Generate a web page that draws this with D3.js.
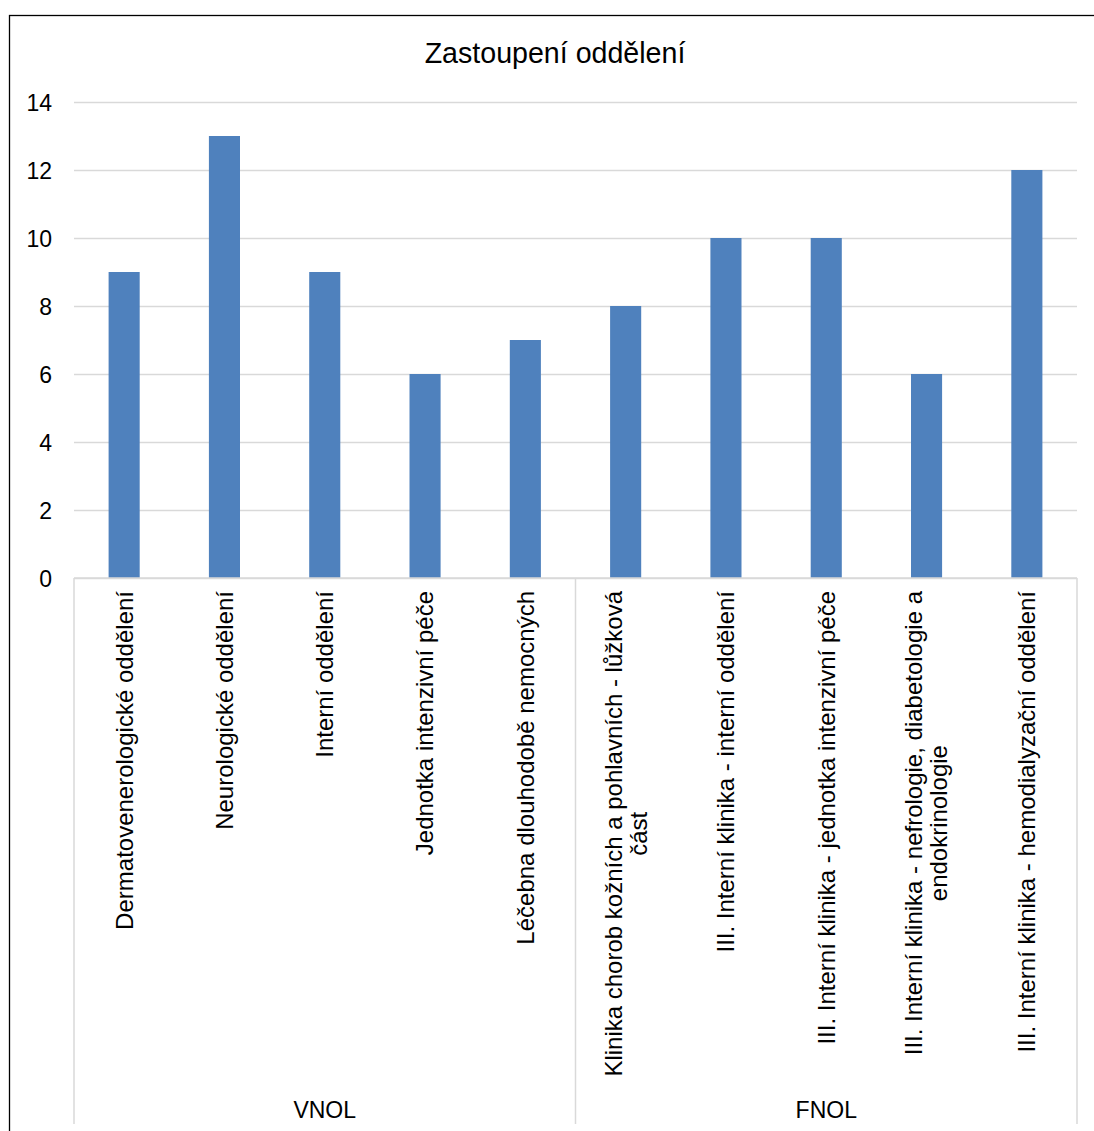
<!DOCTYPE html>
<html>
<head>
<meta charset="utf-8">
<script src="https://cdn.jsdelivr.net/npm/d3@7"></script>
<style>
  html, body { margin: 0; padding: 0; background: #fff; }
  text { font-family: "Liberation Sans", Arial, sans-serif; fill: #000; }
</style>
</head>
<body>
<div id="svg-container"></div>
<script>
// chart data
var departments = [
  "Dermatovenerologické oddělení",
  "Neurologické oddělení",
  "Interní oddělení",
  "Jednotka intenzivní péče",
  "Léčebna dlouhodobě nemocných",
  "Klinika chorob kožních a pohlavních - lůžková část",
  "III. Interní klinika - interní oddělení",
  "III. Interní klinika - jednotka intenzivní péče",
  "III. Interní klinika - nefrologie, diabetologie a endokrinologie",
  "III. Interní klinika - hemodialyzační oddělení"
];
var hospitals = ["VNOL", "VNOL", "VNOL", "VNOL", "VNOL", "FNOL", "FNOL", "FNOL", "FNOL", "FNOL"];
var counts = [9, 13, 9, 6, 7, 8, 10, 10, 6, 12];
var yTicks = [0, 2, 4, 6, 8, 10, 12, 14];
var chartTitle = "Zastoupení oddělení";

// layout
var width = 1094, height = 1131;
var plot = { left : 74, right : 1077, top : 102, bottom : 578 };
var tickFont = 23;
var labelFont = 24;
var maxLabelLength = 500;

var svg = d3.select("#svg-container").append("svg")
    .attr("width", width)
    .attr("height", height);

// chart border (runs off the right and bottom edge)
svg.append("rect")
  .attr("x", 9.5)
  .attr("y", 15.5)
  .attr("width", 1200)
  .attr("height", 1200)
  .attr("fill", "none")
  .attr("stroke", "#000")
  .attr("stroke-width", 1.3);

// title
svg.append("text")
  .attr("x", 555)
  .attr("y", 63)
  .attr("text-anchor", "middle")
  .style("font-size", "28.6px")
  .text(chartTitle);

// scales
var x = d3.scaleBand()
    .domain(d3.range(departments.length))
    .range([plot.left, plot.right])
    .paddingInner(0.69)
    .paddingOuter(0.345);

var xStep = (plot.right - plot.left) / departments.length;

var y = d3.scaleLinear()
    .domain([0, 14])
    .range([plot.bottom, plot.top]);

// y gridlines + tick labels
var yAxis = d3.axisLeft(y)
    .tickValues(yTicks)
    .tickSize(-(plot.right - plot.left))
    .tickPadding(22)
    .tickFormat(d3.format("d"));

var gy = svg.append("g")
  .attr("transform", "translate(" + plot.left + ",0)")
  .call(yAxis);

gy.select(".domain").remove();
gy.selectAll(".tick line")
  .attr("stroke", "#d9d9d9")
  .attr("stroke-width", 1.5);
gy.selectAll(".tick text")
  .attr("dy", "0.36em")
  .style("font-size", tickFont + "px")
  .style("font-family", "'Liberation Sans', Arial, sans-serif");

// bars
svg.append("g")
  .selectAll("rect")
  .data(counts)
  .enter()
    .append("rect")
      .attr("x", function(d, i) { return x(i); })
      .attr("y", function(d) { return y(d); })
      .attr("width", x.bandwidth())
      .attr("height", function(d) { return y(0) - y(d); })
      .attr("fill", "#4f81bd");

// category axis line
svg.append("line")
  .attr("x1", plot.left).attr("x2", plot.right)
  .attr("y1", plot.bottom).attr("y2", plot.bottom)
  .attr("stroke", "#d9d9d9")
  .attr("stroke-width", 1.5);

// build groups from hospital list
var groups = [];
hospitals.forEach(function(h, i) {
  var last = groups[groups.length - 1];
  if (last && last.name === h) last.end = i;
  else groups.push({ name : h, start : i, end : i });
});

// group separators
var separators = [0].concat(groups.map(function(g) { return g.end + 1; }));
svg.append("g")
  .selectAll("line")
  .data(separators)
  .enter()
    .append("line")
      .attr("x1", function(d) { return plot.left + d * xStep; })
      .attr("x2", function(d) { return plot.left + d * xStep; })
      .attr("y1", plot.bottom)
      .attr("y2", 1124)
      .attr("stroke", "#d9d9d9")
      .attr("stroke-width", 1.5);

// group labels
svg.append("g")
  .selectAll("text")
  .data(groups)
  .enter()
    .append("text")
      .attr("x", function(g) { return plot.left + (g.start + g.end + 1) / 2 * xStep; })
      .attr("y", 1118)
      .attr("text-anchor", "middle")
      .style("font-size", tickFont + "px")
      .text(function(g) { return g.name; });

// rotated category labels, wrapped like the spreadsheet does
var measure = svg.append("text").style("font-size", labelFont + "px");
function textLength(s) {
  measure.text(s);
  return measure.node().getComputedTextLength();
}

function wrap(label) {
  var words = label.split(" ");
  var lines = [];
  var line = words[0];
  for (var i = 1; i < words.length; i++) {
    var next = line + " " + words[i];
    if (textLength(next) > maxLabelLength) {
      lines.push(line);
      line = words[i];
    } else {
      line = next;
    }
  }
  lines.push(line);
  return lines;
}

var lineHeight = 25;
var labelTop = 591;

departments.forEach(function(label, i) {
  var lines = wrap(label);
  var blockLength = d3.max(lines, textLength);
  var cx = x(i) + x.bandwidth() / 2;
  var cy = labelTop + blockLength / 2;
  var g = svg.append("g")
    .attr("transform", "translate(" + cx + "," + cy + ") rotate(-90)");
  g.selectAll("text")
    .data(lines)
    .enter()
      .append("text")
        .attr("x", 0)
        .attr("y", function(d, k) { return (k - (lines.length - 1) / 2) * lineHeight; })
        .attr("dy", "0.35em")
        .attr("text-anchor", "middle")
        .style("font-size", labelFont + "px")
        .text(function(d) { return d; });
});

measure.remove();
</script>
</body>
</html>
